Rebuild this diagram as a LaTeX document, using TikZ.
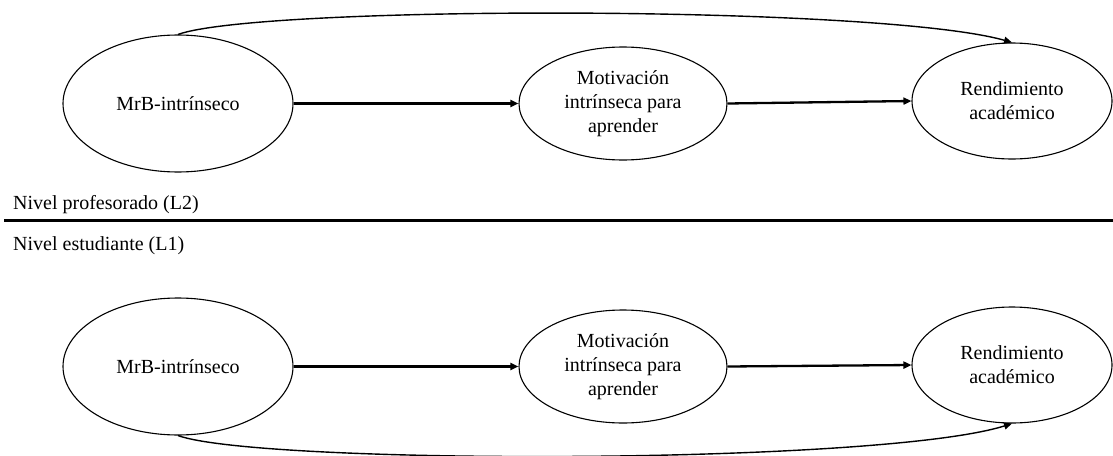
\documentclass[tikz,border=0pt]{standalone}
\usepackage{fontspec}
\setmainfont{Liberation Serif}
\usetikzlibrary{arrows.meta,shapes.geometric}
\begin{document}
\begin{tikzpicture}[x=1pt,y=-1pt,
  font=\fontsize{20}{24}\selectfont,
  var/.style={ellipse,draw,line width=1.1pt,inner sep=0pt,align=center},
  big/.style={var,minimum width=230pt,minimum height=137pt},
  mid/.style={var,minimum width=208pt,minimum height=113pt},
  rgt/.style={var,minimum width=200pt,minimum height=116pt},
  path/.style={line width=2.3pt,-{Triangle[length=8pt,width=7pt]}},
  curve/.style={line width=1.4pt,-{Triangle[length=8pt,width=7pt]}},
  lvl/.style={anchor=base west,inner sep=0pt}]
\useasboundingbox (0,0) rectangle (1113,455);
% Level 2
\node[big] (L1) at (178,103.5) {MrB-intrínseco};
\node[mid] (M1) at (623,103.5) {Motivación\\intrínseca para\\aprender};
\node[rgt] (R1) at (1012,101) {Rendimiento\\académico};
\draw[path] (L1.east) -- (M1.west);
\draw[path] (M1.east) -- (R1.west);
\draw[curve] (L1.north) .. controls (260,5) and (880,5) .. (R1.north);
% separator
\node[lvl] (lab2) at (13,209) {Nivel profesorado (L2)};
\coordinate (sepA) at (4,220.5);
\coordinate (sepB) at (1113,220.5);
\draw[line width=2.2pt] (sepA) -- (sepB);
\node[lvl] (lab1) at (13,250) {Nivel estudiante (L1)};
% Level 1
\node[big] (L2) at (178,366.5) {MrB-intrínseco};
\node[mid] (M2) at (623,366.5) {Motivación\\intrínseca para\\aprender};
\node[rgt] (R2) at (1012,365) {Rendimiento\\académico};
\draw[path] (L2.east) -- (M2.west);
\draw[path] (M2.east) -- (R2.west);
\draw[curve] (L2.south) .. controls (260,465) and (880,465) .. (R2.south);
\end{tikzpicture}
\end{document}
